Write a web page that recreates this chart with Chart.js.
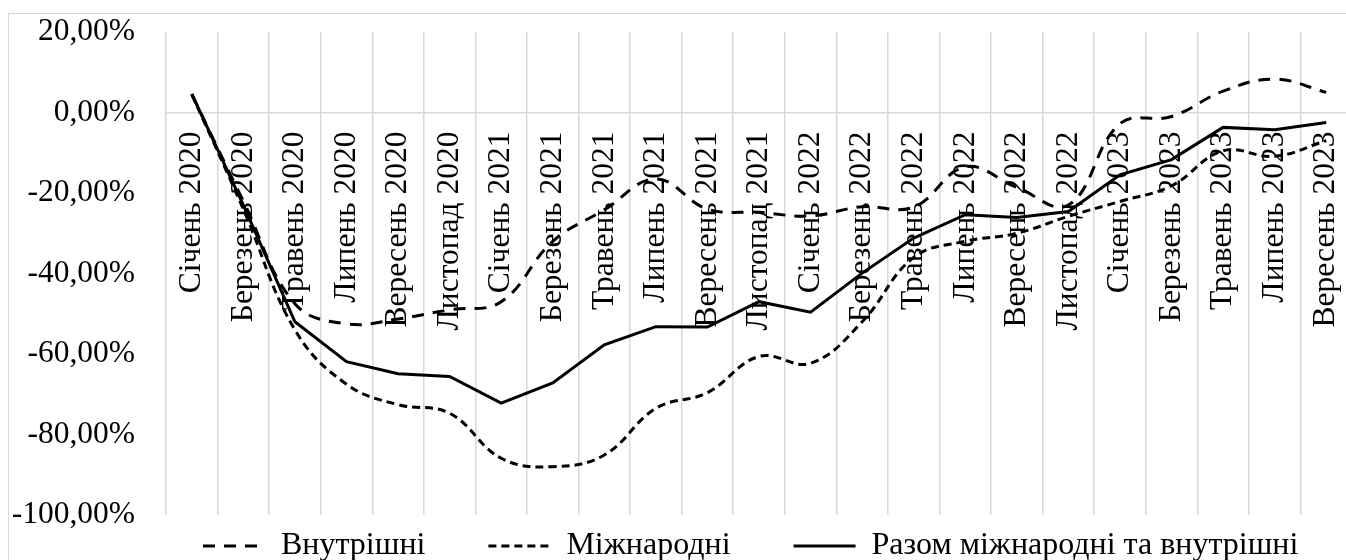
<!DOCTYPE html>
<html><head><meta charset="utf-8">
<script src="https://cdn.jsdelivr.net/npm/chart.js@4.4.1/dist/chart.umd.min.js"></script>
<style>
html,body{margin:0;padding:0;background:#fff;overflow:hidden;width:1346px;height:560px;}
#frame{position:absolute;left:8px;top:13px;width:1400px;height:600px;border:1px solid #d9d9d9;box-sizing:border-box;}
#wrap{position:absolute;left:0;top:0;width:1370px;height:560px;}
</style></head><body>
<div id="frame"></div>
<div id="wrap"><canvas id="c"></canvas></div>
<script>
const categories = ['Січень 2020','Березень 2020','Травень 2020','Липень 2020','Вересень 2020','Листопад 2020',
  'Січень 2021','Березень 2021','Травень 2021','Липень 2021','Вересень 2021','Листопад 2021',
  'Січень 2022','Березень 2022','Травень 2022','Липень 2022','Вересень 2022','Листопад 2022',
  'Січень 2023','Березень 2023','Травень 2023','Липень 2023','Вересень 2023'];
const seriesNames = ['Внутрішні', 'Міжнародні', 'Разом міжнародні та внутрішні'];
const domestic = [4.5, -22, -47.5, -52.5, -51.3, -49, -47, -32, -24.2, -16.5, -24, -24.8, -25.7, -23.4, -23.5, -13.5, -18.6, -23.0, -2.8, -1.0, 5.3, 8.3, 5.0];
const international = [4.5, -24, -54, -67.5, -72.6, -74.7, -85.9, -88.0, -85.1, -73.5, -69.6, -60.6, -62.3, -52, -36, -32, -30, -25.8, -22.1, -18.2, -9.5, -10.9, -7.0];
const total = [4.6, -23, -52.0, -61.9, -64.9, -65.6, -72.2, -67.2, -57.7, -53.2, -53.3, -47.0, -49.6, -39.9, -31.2, -25.4, -26.1, -24.6, -15.5, -11.7, -3.7, -4.3, -2.5];
const yTickValues = [-100, -80, -60, -40, -20, 0, 20];

const FONT = "'Liberation Serif', 'Times New Roman', serif";
const GRID = '#d9d9d9';
const AXIS_FONT = 31.5;
const LEGEND_FONT = 32;
const LEGEND_PAD = 63;

const legendShift = {
  id: 'legendShift',
  afterInit(chart) {
    const lg = chart.legend;
    const fit = lg.fit.bind(lg);
    lg.fit = function () { fit(); this.height = 45; };
    const draw = lg.draw.bind(lg);
    lg.draw = function () {
      const c = this.ctx;
      const b = this.bottom, h = this.height;
      const first = this.legendHitBoxes && this.legendHitBoxes[0];
      const dx = first ? 203 - first.left : 0;
      const dy = 546 - (this.top + LEGEND_PAD + LEGEND_FONT / 2);
      this.bottom = this.top + 200; this.height = 200;
      c.save();
      c.translate(dx, dy);
      draw();
      c.restore();
      this.bottom = b; this.height = h;
    };
  }
};

new Chart(document.getElementById('c'), {
  type: 'line',
  data: {
    labels: categories,
    datasets: [
      { label: seriesNames[0], data: domestic, borderColor: '#000', backgroundColor: '#000', borderWidth: 3, borderDash: [12, 9], tension: 0.4, pointRadius: 0, fill: false },
      { label: seriesNames[1], data: international, borderColor: '#000', backgroundColor: '#000', borderWidth: 3, borderDash: [8, 5], tension: 0.4, pointRadius: 0, fill: false },
      { label: seriesNames[2], data: total, borderColor: '#000', backgroundColor: '#000', borderWidth: 3, tension: 0, pointRadius: 0, fill: false }
    ]
  },
  options: {
    responsive: true, maintainAspectRatio: false, animation: false,
    layout: { padding: { left: 13, top: 32, right: 18, bottom: 0 } },
    plugins: {
      tooltip: { enabled: false },
      legend: {
        position: 'bottom', fullSize: true,
        labels: {
          usePointStyle: true, pointStyle: 'line', pointStyleWidth: 62, boxWidth: 62, padding: LEGEND_PAD,
          color: '#000', font: { family: FONT, size: LEGEND_FONT },
          generateLabels(chart) {
            const items = Chart.defaults.plugins.legend.labels.generateLabels(chart);
            items.forEach((it, i) => {
              const ds = chart.data.datasets[i];
              it.lineDash = ds.borderDash || [];
              it.lineWidth = ds.borderWidth;
              it.strokeStyle = ds.borderColor;
              it.fillStyle = ds.borderColor;
            });
            return items;
          }
        }
      }
    },
    scales: {
      x: {
        type: 'category', offset: true, position: { y: 0 },
        afterFit(scale) { scale.paddingLeft = 0; scale.paddingRight = 0; },
        grid: { display: true, offset: true, color: GRID, lineWidth: 1.5, drawTicks: false },
        border: { display: true, color: GRID, width: 1.5 },
        ticks: { autoSkip: false, minRotation: 90, maxRotation: 90, padding: 19, color: '#000', font: { family: FONT, size: AXIS_FONT } }
      },
      y: {
        min: -100, max: 20,
        afterBuildTicks(scale) { scale.ticks = yTickValues.map(v => ({ value: v })); },
        afterFit(scale) { scale.width = 153; scale.paddingTop = 0; scale.paddingBottom = 0; },
        grid: { display: false, drawTicks: false },
        border: { display: false },
        ticks: { padding: 31, color: '#000', font: { family: FONT, size: AXIS_FONT },
          callback: v => v.toFixed(2).replace('.', ',') + '%' }
      }
    }
  },
  plugins: [legendShift]
});
</script></body></html>
